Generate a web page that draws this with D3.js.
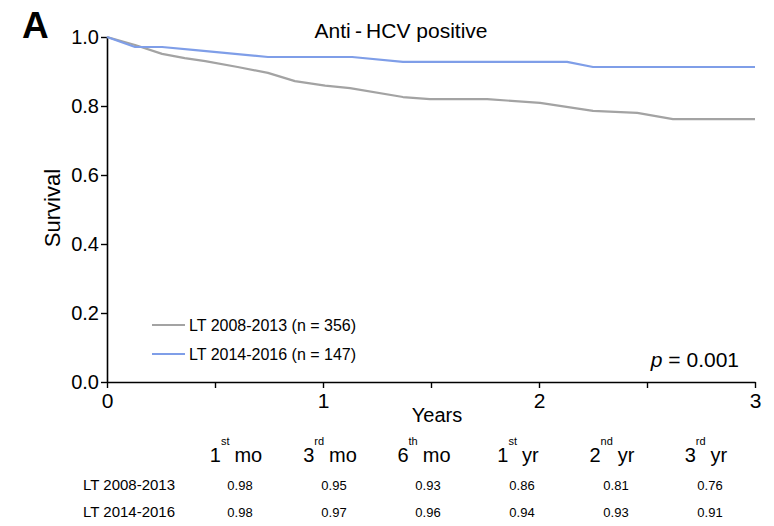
<!DOCTYPE html>
<html>
<head>
<meta charset="utf-8">
<script src="https://cdn.jsdelivr.net/npm/d3@7"></script>
<style>
  body { margin: 0; background: #fff; }
  text { font-family: "Liberation Sans", Arial, sans-serif; fill: #000; }
</style>
</head>
<body>
<svg id="chart"></svg>
<script>
var width = 774;
var height = 526;

// survival curves: [years, survival]
var years2008 = [0, 0.13, 0.255, 0.36, 0.455, 0.605, 0.745, 0.87, 1.01, 1.125, 1.37, 1.495, 1.76, 2.005, 2.25, 2.455, 2.62, 3.0];
var surv2008 = [1.0, 0.977, 0.951, 0.939, 0.930, 0.913, 0.896, 0.872, 0.859, 0.852, 0.826, 0.820, 0.820, 0.809, 0.786, 0.780, 0.762, 0.762];
var years2014 = [0, 0.13, 0.255, 0.41, 0.745, 1.135, 1.37, 2.13, 2.25, 3.0];
var surv2014 = [1.0, 0.971, 0.971, 0.962, 0.942, 0.942, 0.928, 0.928, 0.913, 0.913];

var seriesNames = ["LT 2008-2013 (n = 356)", "LT 2014-2016 (n = 147)"];
var seriesColors = ["#a3a3a3", "#7f9ee8"];

var yTicks = [0, 0.2, 0.4, 0.6, 0.8, 1.0];
var xTicks = [0, 0.5, 1, 1.5, 2, 2.5, 3];
var xTickLabels = ["0", "", "1", "", "2", "", "3"];

// table below the chart
var colNum = ["1", "3", "6", "1", "2", "3"];
var colSup = ["st", "rd", "th", "st", "nd", "rd"];
var colUnit = ["mo", "mo", "mo", "yr", "yr", "yr"];
var rowNames = ["LT 2008-2013", "LT 2014-2016"];
var row2008 = ["0.98", "0.95", "0.93", "0.86", "0.81", "0.76"];
var row2014 = ["0.98", "0.97", "0.96", "0.94", "0.93", "0.91"];

var svg = d3.select("#chart").attr("width", width).attr("height", height);

var x = d3.scaleLinear().domain([0, 3]).range([107, 755]);
var y = d3.scaleLinear().domain([0, 1]).range([382, 37]);

// axes
var yAxis = svg.append("g")
    .attr("transform", "translate(" + x(0) + ",0)")
    .call(d3.axisLeft(y).tickValues(yTicks).tickFormat(d3.format(".1f")).tickSize(6).tickPadding(2).tickSizeOuter(0));
var xAxis = svg.append("g")
    .attr("transform", "translate(0," + y(0) + ")")
    .call(d3.axisBottom(x).tickValues(xTicks).tickFormat(function (d, i) { return xTickLabels[i]; }).tickSize(6).tickPadding(5).tickSizeOuter(0));

svg.selectAll(".domain").style("stroke", "#000").style("stroke-width", "1.6px");
svg.selectAll(".tick line").style("stroke", "#000").style("stroke-width", "1.4px");
yAxis.selectAll("text").style("font-size", "20px").style("font-family", "Liberation Sans, Arial, sans-serif");
xAxis.selectAll("text").style("font-size", "21px").style("font-family", "Liberation Sans, Arial, sans-serif");

// curves
var line = d3.line()
    .x(function (d) { return x(d[0]); })
    .y(function (d) { return y(d[1]); });

var curves = [
    d3.zip(years2008, surv2008),
    d3.zip(years2014, surv2014)
];

svg.append("g").selectAll("path")
    .data(curves)
    .enter().append("path")
    .attr("d", line)
    .attr("fill", "none")
    .attr("stroke", function (d, i) { return seriesColors[i]; })
    .attr("stroke-width", 2.2)
    .attr("stroke-linejoin", "round");

// labels
svg.append("text")
    .attr("x", 22).attr("y", 38)
    .style("font-size", "37px").style("font-weight", "bold")
    .text("A");

svg.append("text")
    .attr("x", 401).attr("y", 38)
    .attr("text-anchor", "middle")
    .style("font-size", "21px")
    .text("Anti\u2009-\u2009HCV positive");

svg.append("text")
    .attr("transform", "translate(60,208) rotate(-90)")
    .attr("text-anchor", "middle")
    .style("font-size", "22px")
    .text("Survival");

svg.append("text")
    .attr("x", 437).attr("y", 422)
    .attr("text-anchor", "middle")
    .style("font-size", "20px")
    .text("Years");

svg.append("text")
    .attr("x", 739).attr("y", 367)
    .attr("text-anchor", "end")
    .style("font-size", "21px")
    .html('<tspan font-style="italic">p</tspan> = 0.001');

// legend
var legend = svg.append("g").selectAll("g")
    .data(seriesNames)
    .enter().append("g")
    .attr("transform", function (d, i) { return "translate(152," + (325 + i * 29) + ")"; });
legend.append("line")
    .attr("x1", 0).attr("x2", 33)
    .attr("stroke", function (d, i) { return seriesColors[i]; })
    .attr("stroke-width", 2.2);
legend.append("text")
    .attr("x", 37).attr("y", 6)
    .style("font-size", "16px")
    .text(function (d) { return d; });

// table
var col = d3.scalePoint().domain(d3.range(colNum.length)).range([240, 710]);

var head = svg.append("g").selectAll("text")
    .data(colNum)
    .enter().append("text")
    .attr("x", function (d, i) { return col(i) - 4; })
    .attr("y", 462)
    .attr("text-anchor", "middle")
    .style("font-size", "20px");
head.append("tspan").text(function (d) { return d; });
head.append("tspan")
    .attr("dy", -17)
    .style("font-size", "11px")
    .text(function (d, i) { return colSup[i]; });
head.append("tspan")
    .attr("dy", 17)
    .attr("dx", 5)
    .text(function (d, i) { return colUnit[i]; });

var rows = [row2008, row2014];
rows.forEach(function (r, j) {
    var ry = 490 + j * 27;
    svg.append("text")
        .attr("x", 83).attr("y", ry)
        .style("font-size", "15px")
        .text(rowNames[j]);
    svg.append("g").selectAll("text")
        .data(r)
        .enter().append("text")
        .attr("x", function (d, i) { return col(i); })
        .attr("y", ry)
        .attr("text-anchor", "middle")
        .style("font-size", "13px")
        .text(function (d) { return d; });
});
</script>
</body>
</html>
